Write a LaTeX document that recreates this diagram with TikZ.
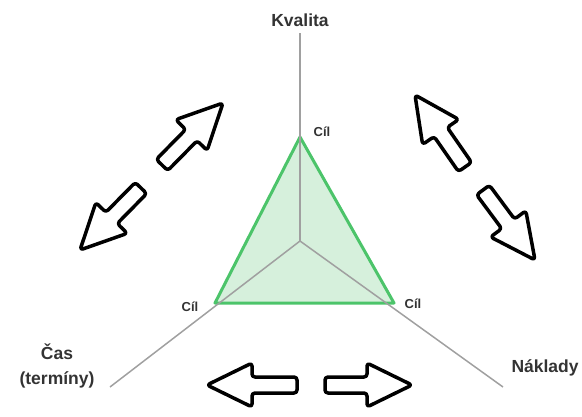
\documentclass[tikz,border=0pt]{standalone}
\usepackage{fontspec}
\setmainfont{Liberation Sans}
\usepackage{tikz}
\usetikzlibrary{calc,positioning}
\usepackage{xcolor}

\definecolor{goalgreen}{HTML}{4CC46A}
\definecolor{goalfill}{HTML}{D6F0DC}
\definecolor{axisgray}{HTML}{A0A0A0}
\definecolor{labelgray}{HTML}{333333}

% outlined block arrow from tail #1 to tip #2
\newcommand{\blockarrow}[2]{%
    \coordinate (ba-base) at ($(#2)!45pt!(#1)$);
    \draw[bigarrow] ($(#1)!8pt!90:(#2)$) -- ($(ba-base)!8pt!90:(#2)$)
        -- ($(ba-base)!22pt!90:(#2)$) -- (#2)
        -- ($(ba-base)!22pt!-90:(#2)$) -- ($(ba-base)!8pt!-90:(#2)$)
        -- ($(#1)!8pt!-90:(#2)$) -- cycle;
}

\begin{document}
\begin{tikzpicture}[x=1pt, y=-1pt,
    axis/.style={draw=axisgray, line width=1.5pt},
    goal/.style={draw=goalgreen, fill=goalfill, line width=3pt, line join=round},
    axislabel/.style={font=\fontsize{17.5}{25}\selectfont\bfseries, text=labelgray, align=center},
    goallabel/.style={font=\fontsize{13}{15}\selectfont\bfseries, text=labelgray},
    bigarrow/.style={draw=black, fill=white, line width=3.5pt, rounded corners=3pt, line join=round}
]
    \useasboundingbox (0,0) rectangle (582,416);

    % axes
    \coordinate (center) at (300,241);
    \coordinate (qualend) at (300,33);
    \coordinate (timeend) at (110,387);
    \coordinate (costend) at (503,387);

    % goal triangle
    \coordinate (qualgoal) at (300,137);
    \coordinate (timegoal) at (215,303);
    \coordinate (costgoal) at (394,303);
    \filldraw[goal] (qualgoal) -- (timegoal) -- (costgoal) -- cycle;

    \draw[axis] (center) -- (qualend);
    \draw[axis] (center) -- (timeend);
    \draw[axis] (center) -- (costend);

    % labels
    \node[axislabel] (kvalita) at (300,20) {Kvalita};
    \node[axislabel] (cas) at (57,366) {Čas\\(termíny)};
    \node[axislabel, anchor=west] (naklady) at (508,368) {Náklady};

    \node[goallabel] (qualcil) at (322,132) {Cíl};
    \node[goallabel] (timecil) at (190,307) {Cíl};
    \node[goallabel] (costcil) at (413,304) {Cíl};

    % tension arrows
    \coordinate (ne-tail) at (162,165);
    \coordinate (ne-tip) at (223,103);
    \coordinate (sw-tail) at (141,188);
    \coordinate (sw-tip) at (80,250);
    \blockarrow{ne-tail}{ne-tip}
    \blockarrow{sw-tail}{sw-tip}

    \coordinate (nw-tail) at (465,167);
    \coordinate (nw-tip) at (415,95);
    \coordinate (se-tail) at (483,190);
    \coordinate (se-tip) at (535,260);
    \blockarrow{nw-tail}{nw-tip}
    \blockarrow{se-tail}{se-tip}

    \coordinate (w-tail) at (297,385);
    \coordinate (w-tip) at (207,385);
    \coordinate (e-tail) at (325,385);
    \coordinate (e-tip) at (412,385);
    \blockarrow{w-tail}{w-tip}
    \blockarrow{e-tail}{e-tip}

\end{tikzpicture}
\end{document}
